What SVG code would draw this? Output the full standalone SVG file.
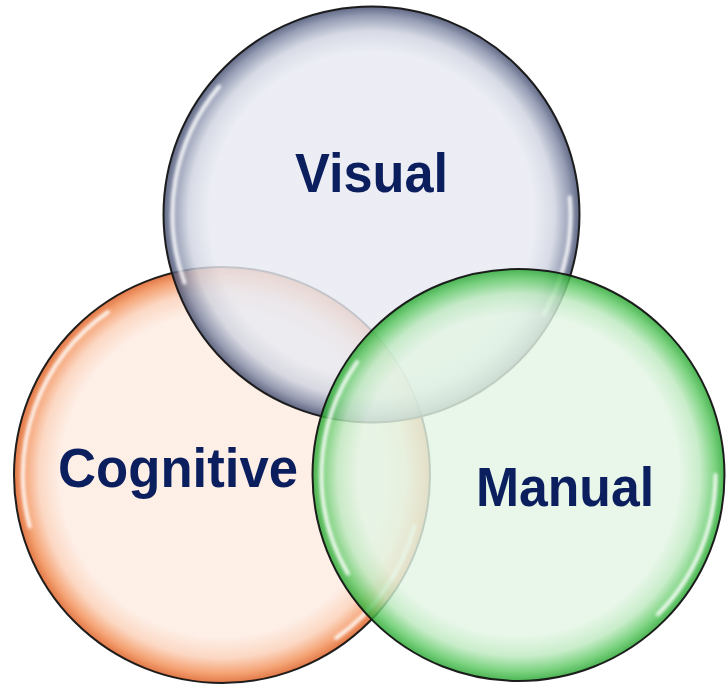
<svg xmlns="http://www.w3.org/2000/svg" width="726" height="684" viewBox="0 0 726 684">
<defs>
<radialGradient id="gV">
<stop offset="0" stop-color="#e8eaf2"/>
<stop offset="0.78" stop-color="#e8eaf2"/>
<stop offset="0.88" stop-color="#cfd3e0"/>
<stop offset="0.955" stop-color="#8089a5"/>
<stop offset="1" stop-color="#3e486b"/>
</radialGradient>
<radialGradient id="gC">
<stop offset="0" stop-color="#fdebe1"/>
<stop offset="0.78" stop-color="#fdebe1"/>
<stop offset="0.88" stop-color="#fbcfb6"/>
<stop offset="0.955" stop-color="#f28e55"/>
<stop offset="1" stop-color="#db5a1e"/>
</radialGradient>
<radialGradient id="gM">
<stop offset="0" stop-color="#e3f5e4"/>
<stop offset="0.78" stop-color="#e3f5e4"/>
<stop offset="0.88" stop-color="#bde9bf"/>
<stop offset="0.955" stop-color="#5ec964"/>
<stop offset="1" stop-color="#25a52e"/>
</radialGradient>
<filter id="blur" x="-20%" y="-20%" width="140%" height="140%">
<feGaussianBlur stdDeviation="1.6"/>
</filter>
</defs>
<style>
.ring{stroke:#141414;stroke-width:2;fill-opacity:0.82;stroke-opacity:0.95}
.hl{fill:none;stroke:#ffffff;stroke-width:4;stroke-linecap:round;opacity:0.85;filter:url(#blur)}
.lbl{font-family:"Liberation Sans",Arial,sans-serif;font-weight:bold;font-size:56px;fill:#0b1f5e;text-anchor:middle}
</style>
<g id="cognitive">
<circle class="ring" cx="222" cy="475" r="208" fill="url(#gC)"/>
<path class="hl" d="M29.8,526.5 A199,199 0 0 1 107.9,312.0"/>
<path class="hl" d="M414.2,526.5 A199,199 0 0 1 336.1,638.0"/>
<text class="lbl" x="178" y="487" textLength="240" lengthAdjust="spacingAndGlyphs">Cognitive</text>
</g>
<g id="visual">
<circle class="ring" cx="371.5" cy="214.5" r="208" fill="url(#gV)"/>
<path class="hl" d="M184.5,282.6 A199,199 0 0 1 219.1,86.6"/>
<path class="hl" d="M569.7,197.2 A199,199 0 0 1 543.8,314.0"/>
<text class="lbl" x="371.5" y="192" textLength="153" lengthAdjust="spacingAndGlyphs">Visual</text>
</g>
<g id="manual">
<circle class="ring" cx="518.5" cy="475" r="206" fill="url(#gM)"/>
<path class="hl" d="M347.9,573.5 A197,197 0 0 1 357.1,362.0"/>
<path class="hl" d="M715.5,475 A197,197 0 0 1 657.8,614.3"/>
<text class="lbl" x="565" y="506" textLength="178" lengthAdjust="spacingAndGlyphs">Manual</text>
</g>
<g id="connectors"/>
</svg>
